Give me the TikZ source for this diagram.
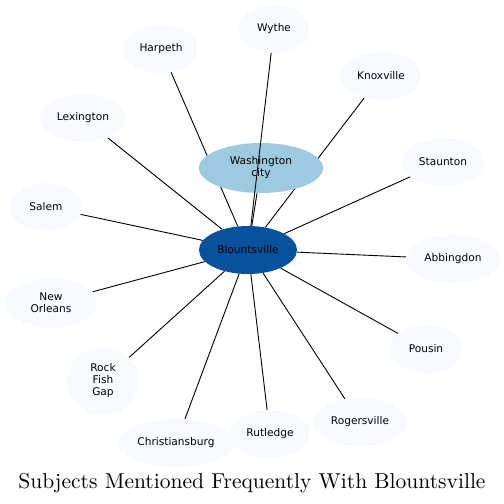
\documentclass[tikz,border=0pt]{standalone}
\usepackage{fontspec}
\newfontfamily\nodefont{DejaVu Sans}
\usetikzlibrary{shapes.geometric,backgrounds}
\definecolor{leaf}{HTML}{F7FBFF}
\definecolor{mid}{HTML}{9ECAE1}
\definecolor{hub}{HTML}{08519C}
\tikzset{
  place/.style={ellipse, fill=leaf, inner sep=0pt, minimum height=48pt, align=center,
    font=\nodefont\fontsize{10.6}{12}\selectfont, text=black},
  link/.style={draw=black, line width=0.9pt},
}
\begin{document}
\begin{tikzpicture}[x=1pt,y=-1pt]
\useasboundingbox (0,0) rectangle (504,504);
% nodes
\node[place, fill=hub, minimum width=98pt] (blo) at (248,250) {Blountsville};
\node[place, fill=mid, minimum width=124pt, minimum height=50pt] (was) at (261,168) {Washington\\city};
\node[place, minimum width=72pt] (wyt) at (274,29) {Wythe};
\node[place, minimum width=76pt] (har) at (161,49) {Harpeth};
\node[place, minimum width=82pt] (kno) at (381,76) {Knoxville};
\node[place, minimum width=86pt] (lex) at (83,118) {Lexington};
\node[place, minimum width=82pt] (sta) at (443,162) {Staunton};
\node[place, minimum width=72pt] (sal) at (46,207) {Salem};
\node[place, minimum width=94pt] (abb) at (453,259) {Abbingdon};
\node[place, minimum width=92pt, minimum height=50pt] (neo) at (51,303) {New\\Orleans};
\node[place, minimum width=73pt] (pou) at (426,349) {Pousin};
\node[place, minimum width=72pt, minimum height=68pt] (rfg) at (103,381) {Rock\\Fish\\Gap};
\node[place, minimum width=95pt] (rog) at (360,422) {Rogersville};
\node[place, minimum width=81pt] (rut) at (270,434) {Rutledge};
\node[place, minimum width=116pt] (chr) at (176,443) {Christiansburg};
\node[inner sep=0pt, anchor=base] (title) at (252,488) {\scalebox{2.154}{Subjects Mentioned Frequently With Blountsville}};
% edges under nodes
\begin{scope}[on background layer]
  \fill[white] (0,0) rectangle (504,504);
  \foreach \t in {har,kno,lex,sta,sal,abb,neo,pou,rfg,rog,rut,chr,was}{
    \path[link] (blo) -- (\t);
  }
\end{scope}
% edge drawn over Washington city
\path[link] (blo) -- (wyt);
\end{tikzpicture}
\end{document}
